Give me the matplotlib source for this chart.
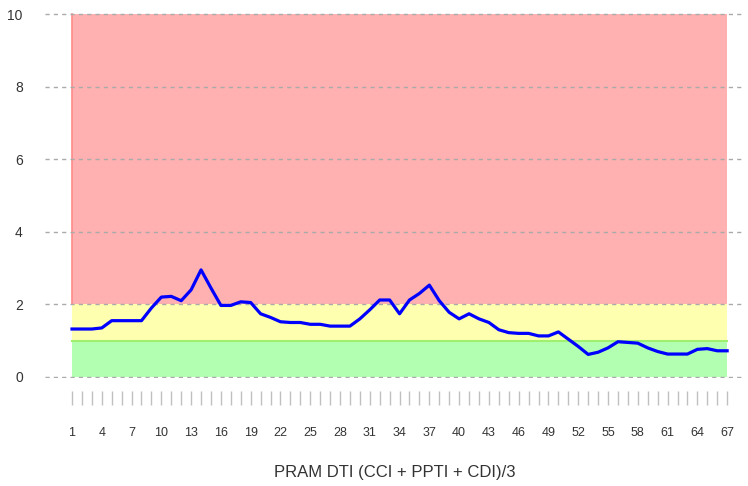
import matplotlib
matplotlib.use("Agg")
import matplotlib.pyplot as plt

plt.rcParams['font.family'] = ['Liberation Sans', 'DejaVu Sans']

# readings per survey point
idx = list(range(1, 68))
dti = [1.32, 1.32, 1.32, 1.35, 1.55, 1.55, 1.55, 1.55, 1.9, 2.2,
       2.22, 2.1, 2.4, 2.95, 2.45, 1.97, 1.97, 2.07, 2.05, 1.74,
       1.64, 1.52, 1.5, 1.5, 1.45, 1.45, 1.4, 1.4, 1.4, 1.6,
       1.85, 2.12, 2.12, 1.74, 2.12, 2.3, 2.53, 2.1, 1.78, 1.6,
       1.74, 1.6, 1.5, 1.3, 1.22, 1.2, 1.2, 1.13, 1.13, 1.24,
       1.04, 0.84, 0.62, 0.68, 0.8, 0.97, 0.95, 0.93, 0.8, 0.7,
       0.63, 0.63, 0.63, 0.76, 0.78, 0.72, 0.72]

# zone limits: green, yellow, red
zone_low = [0, 1, 2]
zone_high = [1, 2, 10]
zone_fill = ['#b2ffb2', '#ffffb0', '#ffb0b0']

y_ticks = [0, 2, 4, 6, 8, 10]
x_labels = idx[::3]

fig = plt.figure(figsize=(7.48, 4.86), dpi=100)
ax = fig.add_axes([45/748, 108/486, 700/748, 365/486])

for lo, hi, fc in zip(zone_low, zone_high, zone_fill):
    ax.fill_between([idx[0], idx[-1]], lo, hi, color=fc, lw=0, zorder=1)

# edge lines of the zones
ax.plot([idx[0], idx[0]], [2, 10], color='#ff8a8a', lw=1.2, zorder=1.5)
ax.plot([idx[0], idx[-1]], [1, 1], color='#a0f070', lw=1.5, zorder=1.5)

ax.plot(idx, dti, color='#0000ff', lw=2.3, zorder=3)

ax.set_xlim(-1.72, 68.8)
ax.set_ylim(-0.03, 10.03)

ax.set_yticks(y_ticks)
ax.yaxis.grid(True, color='#aaaaaa', linestyle=(0, (3, 3)), lw=1)
ax.set_axisbelow(False)

for s in ['top', 'right', 'left']:
    ax.spines[s].set_visible(False)
ax.spines['bottom'].set_position(('outward', 9))
ax.spines['bottom'].set_visible(False)

ax.set_xticks(x_labels)
ax.set_xticks(idx, minor=True)
ax.tick_params(axis='x', which='both', length=10, width=1, color='#c0c0c0')
ax.tick_params(axis='x', which='major', pad=16, labelsize=9, labelcolor='#333333')
ax.tick_params(axis='y', length=0, pad=16, labelsize=10, labelcolor='#333333')

ax.set_xlabel("PRAM DTI (CCI + PPTI + CDI)/3", fontsize=12, color='#333333', labelpad=19)

fig.savefig("out.png", dpi=100)
